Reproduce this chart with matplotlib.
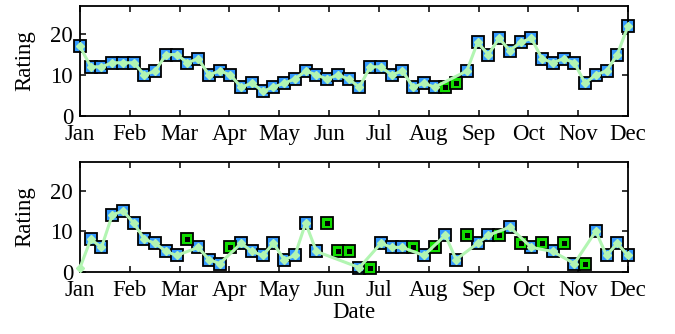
import numpy as np
import matplotlib
matplotlib.use('Agg')
import matplotlib.pyplot as plt

plt.rcParams['font.family'] = ['Liberation Serif', 'DejaVu Serif']

months = ['Jan', 'Feb', 'Mar', 'Apr', 'May', 'Jun',
          'Jul', 'Aug', 'Sep', 'Oct', 'Nov', 'Dec']
weeks = np.arange(1, 53)

top_rating = [17, 12, 12, 13, 13, 13, 10, 11, 15, 15,
              13, 14, 10, 11, 10, 7, 8, 6, 7, 8,
              9, 11, 10, 9, 10, 9, 7, 12, 12, 10,
              11, 7, 8, 7, 7, 8, 11, 18, 15, 19,
              16, 18, 19, 14, 13, 14, 13, 8, 10, 11,
              15, 22]
# b = blue square (on line), g = green square (off line), n = line point only
top_kind = (['b'] * 34) + ['g', 'g'] + (['b'] * 16)

bottom_rating = [1, 8, 6, 14, 15, 12, 8, 7, 5, 4,
                 8, 6, 3, 2, 6, 7, 5, 4, 7, 3,
                 4, 12, 5, 12, 5, 5, 1, 1, 7, 6,
                 6, 6, 4, 6, 9, 3, 9, 7, 9, 9,
                 11, 7, 6, 7, 5, 7, 2, 2, 10, 4,
                 7, 4]
bottom_kind = (['n'] + ['b'] * 9 + ['g'] + ['b'] * 3 + ['g'] + ['b'] * 8 +
               ['g'] * 3 + ['b', 'g'] + ['b'] * 3 + ['g', 'b', 'g'] +
               ['b'] * 2 + ['g'] + ['b'] * 2 + ['g', 'b', 'g', 'b', 'g', 'b',
               'g', 'b', 'g'] + ['b'] * 4)

BLUE = '#3399ff'
GREEN = '#11dd00'
LINE = '#b2f5b2'
FS = 16.5

fig = plt.figure(figsize=(6.75, 3.34), dpi=100)
ax_top = fig.add_axes([80 / 675, 1 - 115.7 / 334, 548 / 675, 110 / 334])
ax_bot = fig.add_axes([80 / 675, 1 - 271.7 / 334, 548 / 675, 109.4 / 334])


def panel(ax, rating, kind):
    r = np.array(rating, dtype=float)
    k = np.array(kind)
    bm = k == 'b'
    gm = k == 'g'
    lm = k != 'g'
    ax.plot(weeks[bm], r[bm], 's', ms=9.2, mfc=BLUE, mec='k', mew=1.3,
            zorder=2, clip_on=False)
    ax.plot(weeks[gm], r[gm], 's', ms=9.2, mfc=GREEN, mec='k', mew=1.3,
            zorder=3, clip_on=False)
    ax.plot(weeks[gm], r[gm], 's', ms=3.6, mfc='k', mec='k', mew=0,
            zorder=3, clip_on=False)
    ax.plot(weeks[lm], r[lm], '-D', color=LINE, lw=2.2, ms=4.2, mfc=LINE,
            mec=LINE, zorder=4, clip_on=False)
    ax.set_xlim(1, 52)
    ax.set_ylim(0, 27)
    ax.set_xticks(np.linspace(1, 52, 12))
    ax.set_xticklabels(months)
    ax.set_yticks([0, 10, 20])
    ax.tick_params(direction='in', top=True, right=True, length=4, width=1.1,
                   labelsize=FS)
    ax.tick_params(axis='x', pad=6)
    ax.tick_params(axis='y', pad=5)
    for s in ax.spines.values():
        s.set_linewidth(1.3)
    ax.set_ylabel('Rating', fontsize=FS, labelpad=11)


panel(ax_top, top_rating, top_kind)
panel(ax_bot, bottom_rating, bottom_kind)
ax_bot.set_xlabel('Date', fontsize=FS, labelpad=1)

fig.savefig('out.png', dpi=100)
